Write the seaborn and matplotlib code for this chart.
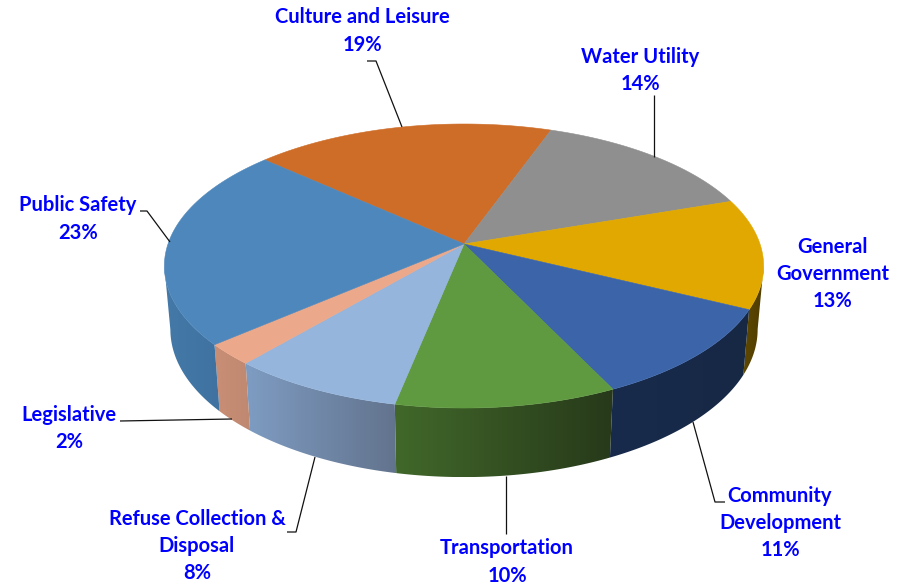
import numpy as np
import matplotlib
matplotlib.use("Agg")
import matplotlib.pyplot as plt
from matplotlib.patches import Polygon
import seaborn as sns

# Budget shares in percent, clockwise from the Culture and Leisure slice
categories = ["Culture and Leisure", "Water Utility", "General\nGovernment",
              "Community\nDevelopment", "Transportation",
              "Refuse Collection &\nDisposal", "Legislative", "Public Safety"]
shares = [18.8, 14.3, 12.51, 10.6, 10.3, 8.1, 2.4, 22.99]

top_colors = ["#CE6D28", "#8F8F8F", "#E0A800", "#3B64A9",
              "#5F9940", "#95B5DC", "#ECA88A", "#4E87BB"]
side_left = ["#A85820", "#757575", "#5E4800", "#182B4C",
             "#41682A", "#7E9CC2", "#C98F76", "#4479A8"]
side_right = ["#A85820", "#757575", "#4E3B00", "#172845",
              "#27391A", "#62738D", "#BF8870", "#3F72A0"]

label_xy = [(362, 31), (640, 70.5), (833, 274), (780, 523),
            (507, 562), (197, 546), (69, 428.5), (78, 219)]
leader_paths = [
    [(367, 61), (376, 61), (402, 127)],
    [(654, 95), (654, 157)],
    [],
    [(693, 422), (715, 502), (725, 502)],
    [(506, 476), (506, 534)],
    [(315, 457), (296, 532), (287, 532)],
    [(120, 421), (232, 419)],
    [(140, 211), (147, 211), (170, 242)],
]

START_ANGLE = 138.0
CX, CY = 464.0, 244.0
RX, RY, PERSPECTIVE = 296.0, 138.6, 0.155


def top_rim(theta_deg):
    """Perspective projection of the pie's upper circle, in pixel units."""
    t = np.radians(theta_deg)
    u, v = np.cos(t), np.sin(t)
    w = 1 + PERSPECTIVE * v
    return CX + RX * u / w, CY - RY * v / w


def bottom_rim(theta_deg):
    """The lower circle sits below the upper one and narrows slightly."""
    x, y = top_rim(theta_deg)
    dy = y - CY
    return CX + 0.98 * (x - CX), CY + 62.5 + 1.04 * dy


sns.set_theme(style="white")
plt.rcParams["font.family"] = ["Lato", "DejaVu Sans"]

fig = plt.figure(figsize=(9.13, 5.86), dpi=100, facecolor="white")
ax = fig.add_axes([0, 0, 1, 1])
ax.axis("off")

sweeps = np.array(shares) / sum(shares) * 360.0
ends = START_ANGLE - np.cumsum(sweeps)
starts = ends + sweeps

# Outer wall: each slice's viewer-facing front carries a left-to-right gradient
for a0, a1, left, right in zip(starts, ends, side_left, side_right):
    angles = np.linspace(a1, a0, 400)
    angles = angles[np.sin(np.radians(angles)) <= -PERSPECTIVE]
    if angles.size < 2:
        continue
    xt, yt = top_rim(angles)
    xb, yb = bottom_rim(angles)
    outline = np.c_[np.r_[xt, xb[::-1]], np.r_[yt, yb[::-1]]]
    cmap = sns.blend_palette([left, right], as_cmap=True)
    ramp = np.linspace(0, 1, 256)[None, :]
    im = ax.imshow(ramp, cmap=cmap, vmin=0, vmax=1, aspect="auto", zorder=2,
                   extent=(outline[:, 0].min(), outline[:, 0].max(),
                           outline[:, 1].max(), outline[:, 1].min()))
    im.set_clip_path(Polygon(outline, closed=True, transform=ax.transData))

# Upper face of the pie
for a0, a1, color in zip(starts, ends, top_colors):
    angles = np.linspace(a0, a1, 200)
    xs, ys = top_rim(angles)
    ax.fill(np.r_[CX, xs], np.r_[CY, ys], facecolor=color, edgecolor=color,
            linewidth=0.4, zorder=3)

# Leader lines
for path in leader_paths:
    if path:
        px, py = zip(*path)
        ax.plot(px, py, color="#111111", linewidth=0.9, zorder=4, solid_capstyle="butt")

# Category labels with their rounded shares
for name, share, (lx, ly) in zip(categories, shares, label_xy):
    ax.text(lx, ly, f"{name}\n{share:.0f}%", ha="center", va="center", color="#0000FF",
            fontsize=14.5, fontweight="bold", linespacing=1.45, zorder=5)

ax.set_xlim(0, 913)
ax.set_ylim(586, 0)
fig.savefig("out.png", dpi=100, facecolor="white")
